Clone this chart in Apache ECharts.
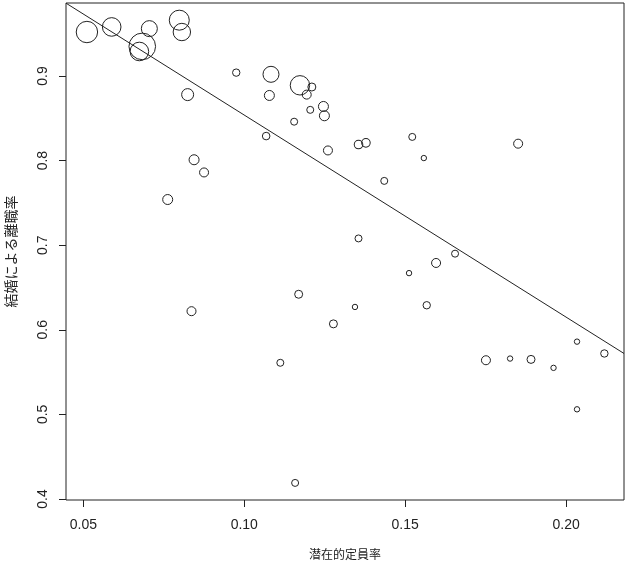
<!DOCTYPE html>
<html>
<head>
<meta charset="utf-8">
<script src="https://cdn.jsdelivr.net/npm/echarts@6/dist/echarts.min.js"></script>
<style>html,body{margin:0;padding:0;background:#fff;}#c{width:628px;height:564px;}</style>
</head>
<body>
<div id="c"></div>
<script>
// 潜在的定員率 (x)
const capacityRate = [0.0511,0.0588,0.0705,0.0683,0.0674,0.0798,0.0806,0.0975,0.1083,0.1078,
  0.0824,0.1173,0.1210,0.1194,0.1246,0.1249,0.1205,0.1155,0.1068,0.1260,
  0.1355,0.1378,0.1522,0.1558,0.1851,0.1435,0.0844,0.0875,0.0762,0.1355,
  0.1655,0.1596,0.1512,0.1169,0.1344,0.1277,0.0836,0.1112,0.1158,0.1567,
  0.2034,0.2119,0.1751,0.1826,0.1891,0.1961,0.2034];
// 結婚による離職率 (y)
const turnoverRate = [0.952,0.958,0.956,0.935,0.929,0.966,0.952,0.904,0.902,0.877,
  0.878,0.889,0.887,0.878,0.864,0.853,0.860,0.846,0.829,0.812,
  0.819,0.821,0.828,0.803,0.820,0.776,0.801,0.786,0.754,0.708,
  0.690,0.679,0.667,0.642,0.627,0.607,0.622,0.561,0.419,0.629,
  0.586,0.572,0.564,0.566,0.565,0.555,0.506];
// bubble weight (relative circle radius)
const weight = [10.7,9.3,8,13.3,9.3,10,8.7,3.7,8,5,
  6,9.7,4,4.5,5,5,3.5,3.5,3.8,4.5,
  4.3,4.3,3.5,2.7,4.5,3.5,5,4.5,5,3.5,
  3.5,4.5,2.7,4,2.7,4,4.5,3.5,3.5,3.7,
  2.7,3.7,4.5,2.7,4,2.7,2.7];
// fitted regression line endpoints
const fitX = [0.0446, 0.2180];
const fitY = [0.9861, 0.5720];
const xTicks = [0.05, 0.10, 0.15, 0.20];
const yTicks = [0.4, 0.5, 0.6, 0.7, 0.8, 0.9];
const xTitle = '潜在的定員率';
const yTitle = '結婚による離職率';

const pts = capacityRate.map((x, i) => [x, turnoverRate[i], weight[i]]);
const fitLine = fitX.map((x, i) => [x, fitY[i]]);

const chart = echarts.init(document.getElementById('c'), null, {renderer: 'canvas'});
const lblFont = {fontFamily: 'Liberation Sans', fontSize: 14, color: '#222'};
chart.setOption({
  animation: false,
  backgroundColor: '#fff',
  grid: {left: 66, right: 4, top: 3, bottom: 64, containLabel: false, outerBoundsMode: 'none',
    show: true, borderColor: '#222', borderWidth: 1, backgroundColor: 'transparent'},
  xAxis: {
    type: 'value', min: 0.0446, max: 0.2180,
    name: xTitle, nameLocation: 'middle', nameGap: 48,
    nameTextStyle: {fontFamily: 'Noto Sans CJK JP', fontSize: 12, color: '#222'},
    axisLine: {show: false},
    splitLine: {show: false},
    axisTick: {show: true, length: 7, inside: false, customValues: xTicks, lineStyle: {color: '#222'}},
    axisLabel: Object.assign({customValues: xTicks, margin: 18, formatter: v => v.toFixed(2)}, lblFont)
  },
  yAxis: {
    type: 'value', min: 0.3988, max: 0.9863,
    name: yTitle, nameLocation: 'middle', nameGap: 48,
    nameTextStyle: {fontFamily: 'Noto Sans CJK JP', fontSize: 14, color: '#222'},
    axisLine: {show: false},
    splitLine: {show: false},
    axisTick: {show: true, length: 7, inside: false, customValues: yTicks, lineStyle: {color: '#222'}},
    axisLabel: Object.assign({customValues: yTicks, margin: 16, rotate: 90, formatter: v => v.toFixed(1)}, lblFont)
  },
  series: [
    {
      type: 'scatter', data: pts,
      symbol: 'circle',
      symbolSize: d => d[2] * 2,
      itemStyle: {color: 'rgba(0,0,0,0)', borderColor: '#222', borderWidth: 1, opacity: 1},
      emphasis: {disabled: true}
    },
    {
      type: 'line', data: fitLine, symbol: 'none', clip: true,
      lineStyle: {color: '#222', width: 1}
    }
  ]
});
</script>
</body>
</html>
